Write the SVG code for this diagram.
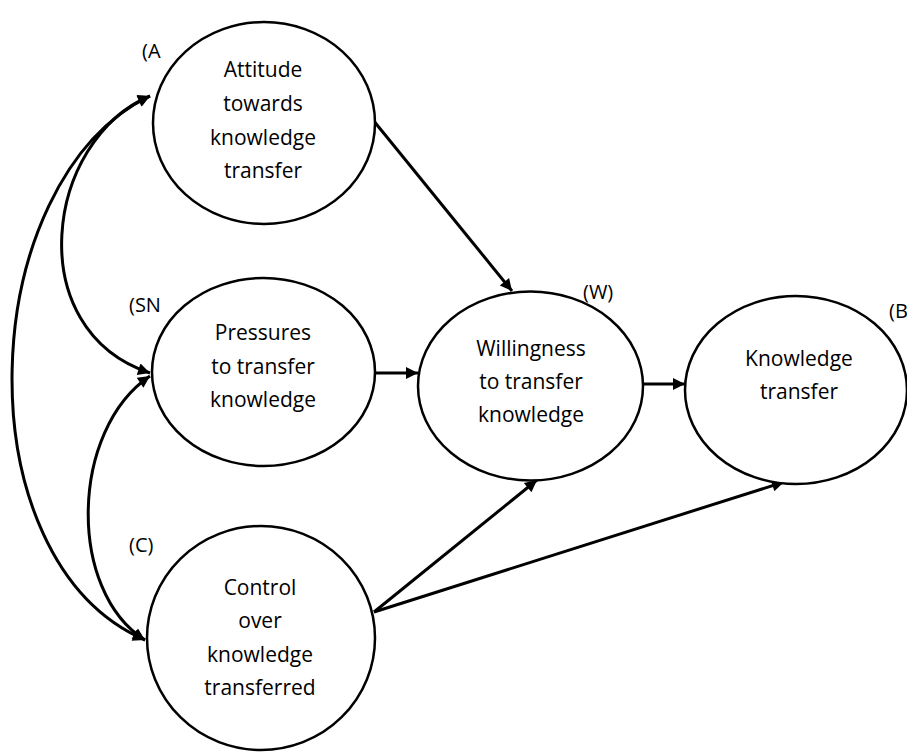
<svg xmlns="http://www.w3.org/2000/svg" width="907" height="752" viewBox="0 0 907 752">
  <style>
    .node { fill: #ffffff; stroke: #000000; stroke-width: 2.5; }
    .label { font-family: "Open Sans", "Liberation Sans", sans-serif; font-size: 21px; fill: #000000; text-anchor: middle; }
    .tag { font-family: "Open Sans", "Liberation Sans", sans-serif; font-size: 20px; fill: #000000; }
    .edge { fill: none; stroke: #000000; stroke-width: 3; }
  </style>
  <defs>
    <marker id="arrow" viewBox="0 0 10 10" refX="10" refY="5" markerUnits="userSpaceOnUse" markerWidth="15" markerHeight="12" orient="auto-start-reverse">
      <path d="M0,0 L10,5 L0,10 z" fill="#000000"/>
    </marker>
  </defs>
  <rect width="907" height="752" fill="#ffffff"/>

  <!-- connectors -->
  <g id="connectors">
    <!-- correlations between the three antecedents -->
    <path class="edge" d="M150,96 C-26,181 -40,560 145,640" marker-start="url(#arrow)" marker-end="url(#arrow)"/>
    <path class="edge" d="M150,96 C45,140 20,330 150,373" marker-start="url(#arrow)" marker-end="url(#arrow)"/>
    <path class="edge" d="M150,376 C70,430 67,591 145,640" marker-start="url(#arrow)" marker-end="url(#arrow)"/>
    <!-- direct paths -->
    <path class="edge" d="M373,120 L512,291" marker-end="url(#arrow)"/>
    <path class="edge" d="M375,373 L418,373" marker-end="url(#arrow)"/>
    <path class="edge" d="M643,384 L685,384" marker-end="url(#arrow)"/>
    <path class="edge" d="M374,612 L537,480" marker-end="url(#arrow)"/>
    <path class="edge" d="M374,612 L784,482" marker-end="url(#arrow)"/>
  </g>

  <g id="node-a">
    <ellipse class="node" cx="264" cy="123" rx="111" ry="101"/>
    <text class="label" x="263" y="77">Attitude</text>
    <text class="label" x="263" y="111">towards</text>
    <text class="label" x="263" y="145">knowledge</text>
    <text class="label" x="263" y="178">transfer</text>
    <text class="tag" x="142" y="58">(A</text>
  </g>

  <g id="node-sn">
    <ellipse class="node" cx="263.5" cy="372" rx="111.5" ry="94"/>
    <text class="label" x="263" y="340">Pressures</text>
    <text class="label" x="263" y="374">to transfer</text>
    <text class="label" x="263" y="407">knowledge</text>
    <text class="tag" x="129" y="312">(SN</text>
  </g>

  <g id="node-c">
    <ellipse class="node" cx="261" cy="638" rx="114" ry="112"/>
    <text class="label" x="260" y="595">Control</text>
    <text class="label" x="260" y="628">over</text>
    <text class="label" x="260" y="662">knowledge</text>
    <text class="label" x="260" y="695">transferred</text>
    <text class="tag" x="129" y="552">(C)</text>
  </g>

  <g id="node-w">
    <ellipse class="node" cx="530.5" cy="386" rx="112.5" ry="94.5"/>
    <text class="label" x="531" y="356">Willingness</text>
    <text class="label" x="531" y="389">to transfer</text>
    <text class="label" x="531" y="422">knowledge</text>
    <text class="tag" x="583" y="299">(W)</text>
  </g>

  <g id="node-b">
    <ellipse class="node" cx="796" cy="390" rx="111" ry="94"/>
    <text class="label" x="799" y="366">Knowledge</text>
    <text class="label" x="799" y="399">transfer</text>
    <text class="tag" x="889" y="318">(B</text>
  </g>
</svg>
